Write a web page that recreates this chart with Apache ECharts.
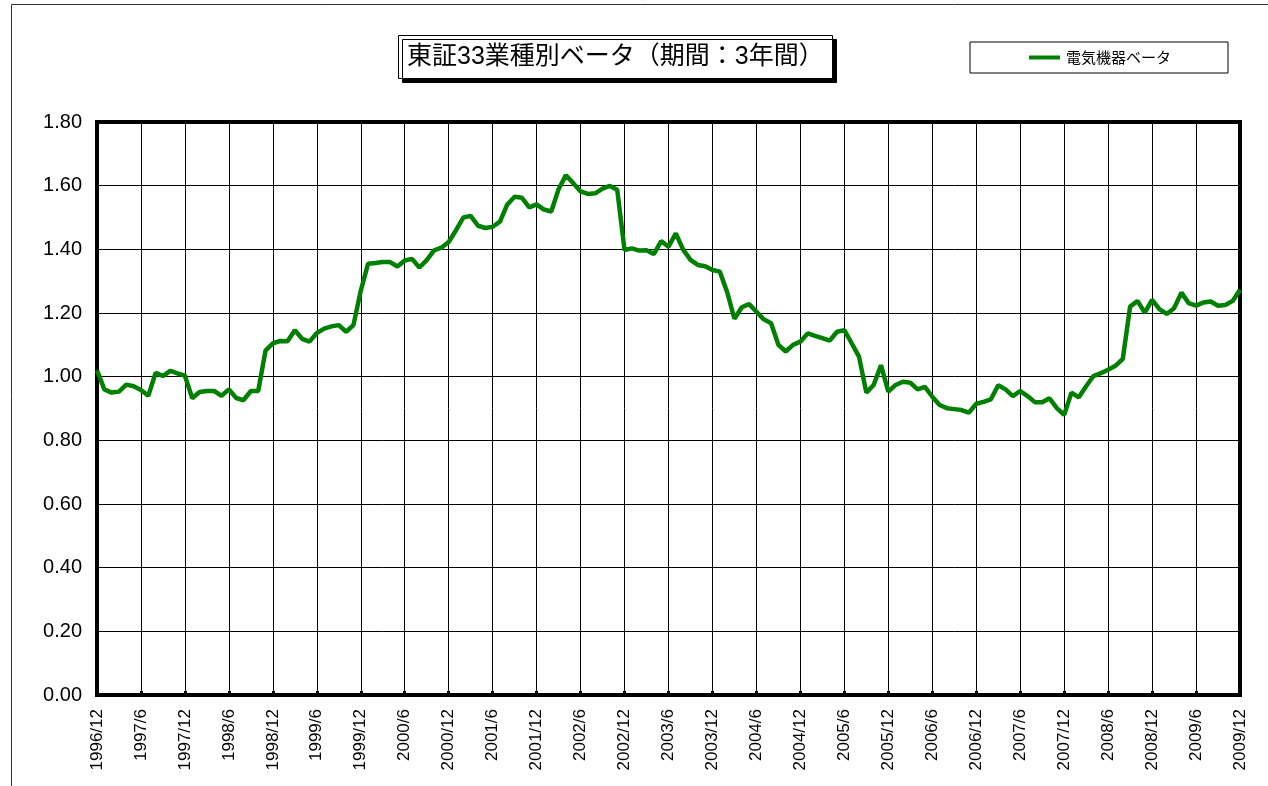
<!DOCTYPE html>
<html>
<head>
<meta charset="utf-8">
<title>東証33業種別ベータ</title>
<script src="https://cdn.jsdelivr.net/npm/echarts@6/dist/echarts.min.js"></script>
<style>
  html, body { margin: 0; padding: 0; background: #fff; }
  #main { width: 1268px; height: 786px; }
</style>
</head>
<body>
<div id="main"></div>
<script>
// 月次ラベル 1996/12 〜 2009/12
var months = [];
for (var y = 1996; y <= 2009; y++) {
    for (var m = 1; m <= 12; m++) {
        if (y === 1996 && m < 12) continue;
        months.push(y + '/' + m);
    }
}

// 電気機器ベータ（3年間）
var betaValues = [
    1.02, 0.96, 0.95, 0.953, 0.975, 0.97, 0.958, 0.94, 1.012, 1.002, 1.018, 1.01,
    1.003, 0.932, 0.952, 0.955, 0.955, 0.94, 0.96, 0.933, 0.926, 0.955, 0.955, 1.082,
    1.105, 1.112, 1.111, 1.146, 1.119, 1.11, 1.137, 1.151, 1.158, 1.162, 1.141, 1.162,
    1.27, 1.355, 1.357, 1.36, 1.36, 1.346, 1.365, 1.37, 1.343, 1.366, 1.397, 1.405,
    1.423, 1.46, 1.50, 1.505, 1.474, 1.467, 1.471, 1.487, 1.541, 1.565, 1.562, 1.532,
    1.541, 1.525, 1.519, 1.589, 1.633, 1.608, 1.582, 1.574, 1.576, 1.591, 1.599, 1.587,
    1.398, 1.403, 1.396, 1.397, 1.385, 1.426, 1.408, 1.45, 1.399, 1.367, 1.351, 1.347,
    1.335, 1.33, 1.266, 1.182, 1.218, 1.228, 1.204, 1.18, 1.168, 1.10, 1.079, 1.10,
    1.11, 1.136, 1.128, 1.121, 1.113, 1.141, 1.146, 1.105, 1.063, 0.95, 0.974, 1.036,
    0.953, 0.974, 0.984, 0.981, 0.96, 0.968, 0.937, 0.911, 0.901, 0.898, 0.895, 0.887,
    0.915, 0.921, 0.929, 0.973, 0.96, 0.939, 0.955, 0.939, 0.92, 0.92, 0.932, 0.901,
    0.88, 0.95, 0.935, 0.97, 1.002, 1.011, 1.022, 1.034, 1.056, 1.22, 1.238, 1.201,
    1.241, 1.212, 1.197, 1.215, 1.264, 1.231, 1.223, 1.233, 1.236, 1.223, 1.225, 1.238,
    1.273
];

var seriesName = '電気機器ベータ';
var titleText = '東証33業種別ベータ（期間：3年間）';

var myChart = echarts.init(document.getElementById('main'));

option = {
    backgroundColor: '#fff',
    animation: false,
    title: {
        text: titleText,
        left: 398,
        top: 35,
        padding: [7, 9, 7, 9],
        backgroundColor: '#fff',
        borderColor: '#000',
        borderWidth: 1,
        shadowColor: '#000',
        shadowOffsetX: 4,
        shadowOffsetY: 4,
        shadowBlur: 0,
        textStyle: {
            fontFamily: '"Liberation Sans", "Noto Sans CJK JP", sans-serif',
            fontSize: 25,
            lineHeight: 30,
            fontWeight: 'normal',
            color: '#000'
        }
    },
    legend: {
        data: [seriesName],
        left: 970,
        top: 42,
        padding: [8, 57, 8, 59],
        borderColor: '#000',
        borderWidth: 1,
        icon: 'rect',
        itemWidth: 31,
        itemHeight: 4,
        itemGap: 6,
        textStyle: {
            fontFamily: '"Noto Sans CJK JP", sans-serif',
            fontSize: 15,
            color: '#000',
            padding: [0, 0, 0, 1]
        }
    },
    // 外枠
    graphic: [
        {
            type: 'rect',
            shape: { x: 11.5, y: 4.5, width: 1400, height: 900 },
            style: { fill: 'none', stroke: '#333', lineWidth: 1 },
            silent: true
        }
    ],
    grid: {
        left: 97,
        top: 122,
        right: 28,
        bottom: 91,
        show: true,
        borderColor: '#000',
        borderWidth: 4
    },
    xAxis: {
        type: 'category',
        data: months,
        boundaryGap: false,
        axisLine: { lineStyle: { color: '#000', width: 4 } },
        axisTick: {
            show: true,
            inside: true,
            interval: 5,
            length: 4,
            lineStyle: { color: '#000', width: 3 }
        },
        axisLabel: {
            interval: 5,
            rotate: 90,
            margin: 14,
            fontFamily: 'Liberation Sans, Arial, sans-serif',
            fontSize: 17,
            color: '#000'
        },
        splitLine: {
            show: true,
            interval: 5,
            lineStyle: { color: '#000', width: 1 }
        }
    },
    yAxis: {
        type: 'value',
        min: 0,
        max: 1.8,
        interval: 0.2,
        axisLine: { show: true, lineStyle: { color: '#000', width: 4 } },
        axisTick: { show: false },
        axisLabel: {
            margin: 15,
            fontFamily: 'Liberation Sans, Arial, sans-serif',
            fontSize: 20,
            color: '#000',
            formatter: function (v) {
                return v.toFixed(2);
            }
        },
        splitLine: {
            show: true,
            lineStyle: { color: '#000', width: 1 }
        }
    },
    series: [
        {
            name: seriesName,
            type: 'line',
            data: betaValues,
            showSymbol: false,
            symbol: 'none',
            lineStyle: { color: '#008000', width: 4.5 },
            itemStyle: { color: '#008000' }
        }
    ]
};

myChart.setOption(option);
</script>
</body>
</html>
